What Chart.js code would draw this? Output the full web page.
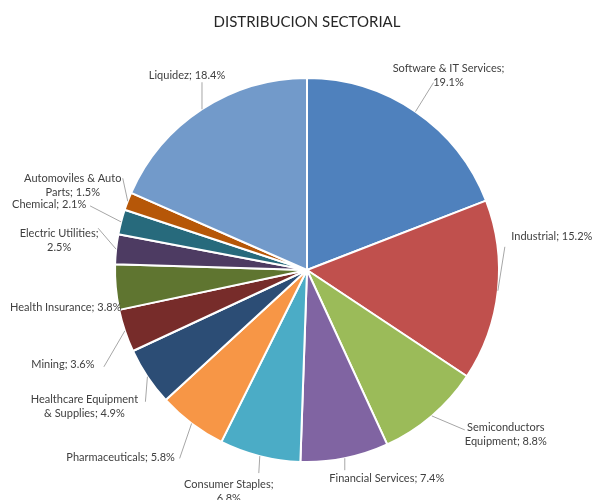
<!DOCTYPE html>
<html>
<head>
<meta charset="utf-8">
<script src="https://cdn.jsdelivr.net/npm/chart.js@4.4.1/dist/chart.umd.min.js"></script>
<style>
  html, body { margin: 0; padding: 0; background: #fff; }
  canvas { display: block; }
</style>
</head>
<body>
<canvas id="chart" width="594" height="500"></canvas>
<script>
// Sector names and weights (%)
const sectors = [
  'Software & IT Services', 'Industrial', 'Semiconductors Equipment',
  'Financial Services', 'Consumer Staples', 'Pharmaceuticals',
  'Healthcare Equipment & Supplies', 'Mining', 'Health Insurance',
  'Electric Utilities', 'Chemical', 'Automoviles & Auto Parts', 'Liquidez'
];
const weights = [19.1, 15.2, 8.8, 7.4, 6.8, 5.8, 4.9, 3.6, 3.8, 2.5, 2.1, 1.5, 18.4];
const sliceColors = [
  '#4f81bd', '#c0504d', '#9bbb59', '#8064a2', '#4bacc6', '#f79646',
  '#2c4d75', '#772c2a', '#5f7530', '#4d3b62', '#276a7c', '#b65708', '#729aca'
];

// label placement relative to the slice edge point (Excel-like layout)
// dx/dy: text block centre, lead: leader end, words: words on first line
const labelLayout = [
  { dx: 33, dy: -36, lead: [18, -29], words: 4 },
  { dx: 54, dy: -54, lead: [7, -44] },
  { dx: 74, dy: 19, lead: [33, 14], words: 1 },
  { dx: 42, dy: 20, lead: [0, 12] },
  { dx: -31, dy: 35, lead: [-1, 17], words: 2 },
  { dx: -71, dy: 34, lead: [-12, 35] },
  { dx: -63, dy: 30, lead: [-2, 25], words: 2 },
  { dx: -62, dy: 34, lead: [-21, 36] },
  { dx: -50, dy: 20, lead: null },
  { dx: -57, dy: -9, lead: [-18, -21], words: 2 },
  { dx: -72, dy: -17, lead: [-31, -16] },
  { dx: -55, dy: -16, lead: [-5, -23], words: 3 },
  { dx: -15, dy: -34, lead: [0, -27] }
];

const sliceLabels = {
  id: 'sliceLabels',
  afterDatasetsDraw(chart) {
    const ctx = chart.ctx;
    const meta = chart.getDatasetMeta(0);
    ctx.save();
    ctx.font = '11px Lato';
    ctx.fillStyle = '#404040';
    ctx.strokeStyle = '#a6a6a6';
    ctx.lineWidth = 1;
    ctx.textAlign = 'center';
    ctx.textBaseline = 'middle';
    meta.data.forEach((arc, i) => {
      const mid = (arc.startAngle + arc.endAngle) / 2;
      const ex = arc.x + Math.cos(mid) * arc.outerRadius;
      const ey = arc.y + Math.sin(mid) * arc.outerRadius;
      const lay = labelLayout[i];
      if (lay.lead) {
        ctx.beginPath();
        ctx.moveTo(ex, ey);
        ctx.lineTo(ex + lay.lead[0], ey + lay.lead[1]);
        ctx.stroke();
      }
      const text = sectors[i] + '; ' + weights[i].toFixed(1) + '%';
      let lines = [text];
      if (lay.words) {
        const w = text.split(' ');
        lines = [w.slice(0, lay.words).join(' '), w.slice(lay.words).join(' ')];
      }
      const lh = 14;
      const top = ey + lay.dy - (lines.length - 1) * lh / 2;
      lines.forEach((l, k) => ctx.fillText(l, ex + lay.dx, top + k * lh));
    });
    ctx.restore();
  }
};

new Chart(document.getElementById('chart'), {
  type: 'pie',
  data: {
    labels: sectors,
    datasets: [{
      data: weights,
      backgroundColor: sliceColors,
      borderColor: '#ffffff',
      borderWidth: 2,
      hoverOffset: 0
    }]
  },
  options: {
    responsive: false,
    animation: false,
    layout: { padding: { left: 20, right: 0, top: 0, bottom: 37 } },
    plugins: {
      legend: { display: false },
      tooltip: { enabled: false },
      title: {
        display: true,
        text: 'DISTRIBUCION SECTORIAL',
        color: '#262626',
        font: { family: 'Lato', size: 15, weight: 'normal', lineHeight: 1.2 },
        padding: { top: 13, bottom: 46 }
      }
    }
  },
  plugins: [sliceLabels]
});
</script>
</body>
</html>
